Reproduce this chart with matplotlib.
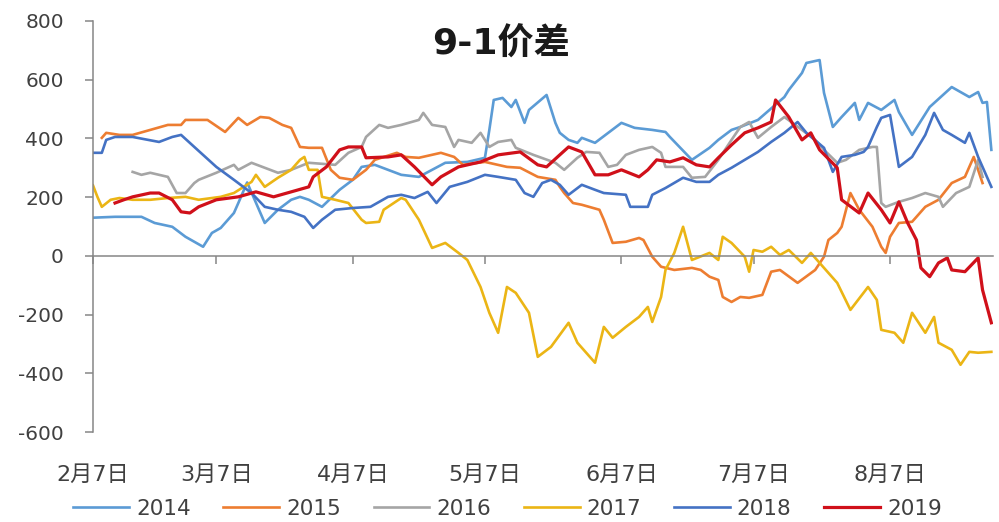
import numpy as np
import matplotlib
matplotlib.use("Agg")
import matplotlib.pyplot as plt

plt.rcParams['font.family'] = ['DejaVu Sans', 'Noto Sans CJK SC']
plt.rcParams['axes.unicode_minus'] = False

# days after 2月7日, spread values
d2014 = [0, 5, 11, 14, 18, 21, 23, 25, 27, 29, 32, 33, 35, 39, 42, 45, 47, 49, 52, 56,
         59, 61, 64, 70, 74, 77, 80, 85, 89, 90, 91, 93, 95, 96, 98, 99, 103, 105, 106, 108,
         110, 111, 114, 117, 120, 123, 127, 130, 131, 136, 140, 142, 145, 147, 151, 157, 158, 161, 162, 165,
         166, 168, 170, 173, 174, 176, 179, 182, 183, 186, 190, 195, 199, 201, 202, 203, 204]
v2014 = [130, 133, 133, 112, 99, 65, 48, 31, 78, 95, 146, 180, 250, 112, 157, 191, 201, 191, 167, 225,
         259, 303, 310, 276, 269, 293, 317, 320, 334, 429, 531, 538, 507, 531, 453, 497, 548, 453, 419, 395,
         385, 402, 385, 419, 453, 436, 429, 422, 405, 327, 368, 395, 429, 439, 463, 541, 565, 623, 657, 667,
         555, 439, 473, 521, 463, 521, 497, 531, 490, 412, 507, 575, 541, 558, 521, 524, 361]

d2015 = [2, 3, 6, 9, 13, 17, 20, 21, 26, 30, 33, 35, 38, 40, 43, 45, 47, 49, 52, 54,
         56, 59, 62, 64, 69, 71, 74, 79, 82, 84, 89, 94, 97, 101, 105, 106, 107, 109, 111, 115,
         116, 118, 121, 124, 125, 127, 129, 132, 136, 138, 140, 142, 143, 145, 147, 149, 152, 154, 156, 160,
         164, 166, 167, 169, 170, 172, 174, 177, 179, 180, 181, 183, 186, 189, 192, 195, 198, 200, 202]
v2015 = [402, 419, 412, 412, 429, 446, 446, 463, 463, 422, 470, 446, 473, 470, 446, 436, 371, 368, 368, 293,
         266, 259, 293, 327, 351, 337, 334, 351, 337, 310, 320, 303, 300, 269, 259, 235, 214, 180, 174, 157,
         123, 44, 48, 61, 54, -3, -37, -48, -41, -48, -71, -82, -140, -157, -140, -143, -133, -54, -48, -92,
         -48, -3, 54, 78, 99, 214, 157, 99, 31, 10, 65, 112, 116, 167, 191, 248, 269, 337, 248]

d2016 = [9, 11, 13, 17, 19, 21, 23, 24, 28, 32, 33, 36, 39, 42, 45, 49, 55, 58, 61, 62,
         65, 67, 70, 74, 75, 77, 80, 82, 83, 86, 88, 90, 92, 95, 96, 100, 105, 107, 110, 112,
         115, 117, 119, 121, 124, 127, 129, 130, 134, 136, 139, 142, 145, 147, 149, 151, 154, 157, 161, 164,
         166, 169, 171, 174, 177, 178, 179, 180, 183, 186, 189, 192, 193, 196, 199, 201, 202]
v2016 = [286, 276, 283, 269, 214, 214, 248, 259, 283, 310, 293, 317, 300, 283, 293, 317, 310, 351, 371, 405,
         446, 436, 446, 463, 487, 446, 439, 371, 395, 385, 419, 371, 388, 395, 368, 344, 317, 293, 334, 354,
         351, 303, 310, 344, 361, 371, 351, 303, 303, 266, 269, 327, 395, 439, 456, 402, 439, 473, 429, 395,
         361, 317, 327, 361, 371, 371, 180, 167, 184, 197, 214, 201, 167, 214, 235, 327, 269]

d2017 = [0, 1, 2, 4, 6, 9, 13, 17, 21, 24, 29, 32, 36, 37, 39, 42, 45, 47, 48, 49,
         51, 52, 55, 58, 61, 62, 65, 66, 70, 71, 74, 77, 80, 83, 85, 88, 90, 92, 94, 96,
         99, 101, 104, 108, 110, 114, 116, 118, 121, 124, 126, 127, 129, 130, 132, 134, 136, 140, 142, 143,
         145, 148, 149, 150, 152, 154, 156, 158, 161, 163, 165, 169, 172, 176, 178, 179, 182, 184, 186, 189,
         191, 192, 195, 197, 199, 201, 204]
v2017 = [240, 201, 167, 191, 197, 191, 191, 197, 201, 191, 201, 214, 252, 276, 235, 266, 293, 327, 337, 293,
         293, 201, 191, 180, 123, 112, 116, 157, 197, 191, 123, 27, 44, 10, -14, -106, -194, -262, -106, -126,
         -194, -344, -310, -228, -296, -364, -242, -279, -242, -208, -174, -225, -140, -48, 10, 99, -14, 10, -14, 65,
         44, -3, -54, 20, 14, 31, 3, 20, -24, 10, -24, -92, -184, -106, -150, -252, -262, -296, -194, -262,
         -208, -296, -320, -371, -327, -330, -327]

d2018 = [0, 2, 3, 5, 9, 15, 18, 20, 23, 28, 32, 36, 39, 42, 45, 48, 50, 52, 55, 59,
         63, 67, 70, 73, 76, 78, 81, 85, 89, 92, 96, 98, 100, 102, 104, 106, 108, 111, 114, 116,
         121, 122, 126, 127, 130, 134, 137, 140, 142, 145, 148, 151, 154, 157, 160, 162, 166, 168, 170, 173,
         175, 176, 178, 179, 181, 183, 186, 189, 191, 193, 195, 198, 199, 201, 204]
v2018 = [351, 351, 395, 405, 405, 388, 405, 412, 371, 303, 259, 214, 167, 157, 150, 133, 95, 123, 157, 163,
         167, 201, 208, 197, 218, 180, 235, 252, 276, 269, 259, 214, 201, 248, 259, 242, 208, 242, 225, 214,
         208, 167, 167, 208, 231, 266, 252, 252, 276, 300, 327, 354, 388, 419, 456, 419, 368, 286, 337, 344,
         354, 371, 439, 470, 480, 303, 337, 412, 487, 429, 412, 385, 419, 337, 235]

d2019 = [5, 7, 9, 13, 15, 18, 20, 22, 24, 28, 33, 37, 41, 45, 49, 50, 53, 56, 58, 61,
         62, 67, 70, 73, 77, 79, 83, 88, 92, 97, 101, 103, 106, 108, 111, 114, 117, 120, 124, 126,
         128, 131, 134, 137, 140, 142, 145, 148, 151, 154, 155, 158, 161, 163, 165, 169, 170, 174, 176, 179,
         181, 183, 185, 187, 188, 190, 192, 194, 195, 198, 201, 202, 204]
v2019 = [180, 191, 201, 214, 214, 191, 150, 146, 167, 191, 201, 218, 201, 218, 235, 269, 303, 361, 371, 371,
         334, 337, 344, 303, 242, 269, 303, 320, 344, 354, 310, 303, 344, 371, 354, 276, 276, 293, 269, 293,
         327, 320, 334, 310, 303, 334, 378, 419, 436, 456, 531, 473, 395, 419, 361, 300, 191, 146, 214, 157,
         112, 184, 112, 54, -41, -71, -24, -7, -48, -54, -7, -116, -228]

years = ['2014', '2015', '2016', '2017', '2018', '2019']
colors = ['#5B9BD5', '#ED7D31', '#A5A5A5', '#EBB515', '#4472C4', '#D0101A']

tick_dates = ['2019-02-07', '2019-03-07', '2019-04-07', '2019-05-07',
              '2019-06-07', '2019-07-07', '2019-08-07']
tick_labels = ['2月7日', '3月7日', '4月7日', '5月7日', '6月7日', '7月7日', '8月7日']
tick_pos = (np.array(tick_dates, dtype='datetime64[D]') - np.datetime64('2019-02-07')).astype(int)

fig = plt.figure(figsize=(9.99, 5.22), dpi=100)
ax = fig.add_axes([0.0931, 0.1724, 0.901, 0.7874])

series = [(d2014, v2014), (d2015, v2015), (d2016, v2016),
          (d2017, v2017), (d2018, v2018), (d2019, v2019)]
for (d, v), yr, c in zip(series, years, colors):
    lw = 2.3 if yr == '2019' else 1.9
    ax.plot(d, v, color=c, linewidth=lw, label=yr, solid_joinstyle='round')

ax.set_xlim(0, 204.4)
ax.set_ylim(-600, 800)
ax.set_yticks(np.arange(-600, 801, 200))

grey = '#868686'
for s in ['top', 'right']:
    ax.spines[s].set_visible(False)
ax.spines['left'].set_color(grey)
ax.spines['left'].set_linewidth(1.1)
ax.spines['bottom'].set_position(('data', 0))
ax.spines['bottom'].set_color(grey)
ax.spines['bottom'].set_linewidth(1.1)

ax.set_xticks(tick_pos)
ax.tick_params(axis='x', direction='out', length=6, width=1.1, color=grey, labelbottom=False)
ax.tick_params(axis='y', direction='out', length=6, width=1.1, color=grey, pad=15,
               labelsize=14.5, labelcolor='#404040')

# month labels sit below the plot, not on the zero line
sec = ax.secondary_xaxis('bottom')
sec.set_xticks(tick_pos)
sec.set_xticklabels(tick_labels)
sec.tick_params(length=0, pad=24, labelsize=16, labelcolor='#404040')
sec.spines['bottom'].set_visible(False)

fig.text(0.502, 0.915, '9-1价差', ha='center', va='center', fontsize=26,
         fontweight='bold', color='#1a1a1a')

fig.legend(loc='center', bbox_to_anchor=(0.508, 0.025), ncol=6, frameon=False,
           fontsize=15.5, handlelength=2.6, handletextpad=0.33, columnspacing=1.5,
           labelcolor='#404040')

fig.savefig('out.png', dpi=100)
